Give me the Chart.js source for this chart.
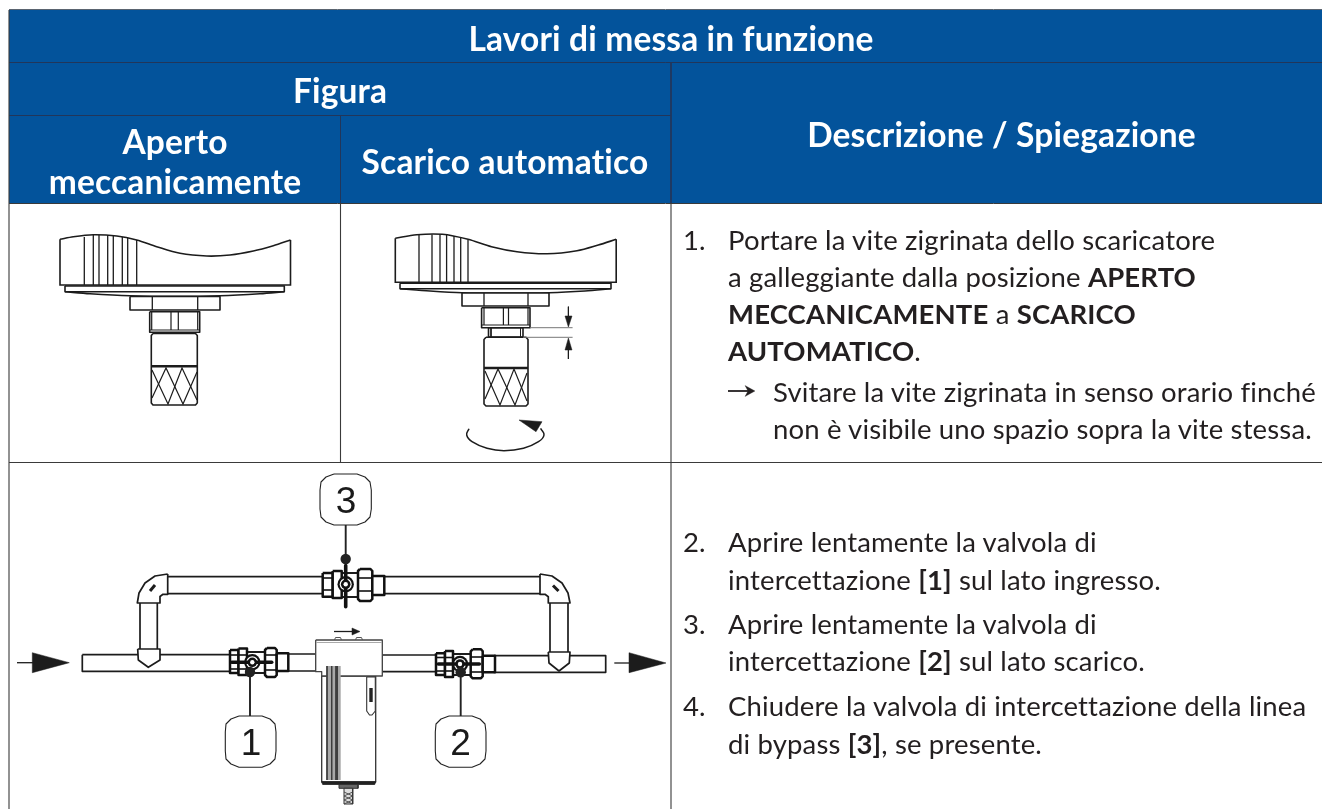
<!DOCTYPE html>
<html lang="it">
<head>
<meta charset="utf-8">
<title>Lavori di messa in funzione</title>
<script src="https://cdn.jsdelivr.net/npm/chart.js@4/dist/chart.umd.min.js"></script>
<style>html,body{margin:0;padding:0;background:#fff}canvas{display:block}</style>
</head>
<body>
<canvas id="c" width="1322" height="809"></canvas>
<script>
// ---------- TEXT ----------
const headerTexts = ["Lavori di messa in funzione","Figura","Aperto","meccanicamente","Scarico automatico","Descrizione / Spiegazione"];
const headerX = [671,340,175,175,505,1001.5];
const headerY = [51,103,154,194,174,147];
const bodyNumbers = ["1.","2.","3.","4."];
const bodyNumberY = [250,552,634,716];
const bodyLines = [
 [["Portare la vite zigrinata dello scaricatore",0]],
 [["a galleggiante dalla posizione ",0],["APERTO",1]],
 [["MECCANICAMENTE",1],[" a ",0],["SCARICO",1]],
 [["AUTOMATICO",1],[".",0]],
 [["Svitare la vite zigrinata in senso orario finché",0]],
 [["non è visibile uno spazio sopra la vite stessa.",0]],
 [["Aprire lentamente la valvola di",0]],
 [["intercettazione ",0],["[1]",1],[" sul lato ingresso.",0]],
 [["Aprire lentamente la valvola di",0]],
 [["intercettazione ",0],["[2]",1],[" sul lato scarico.",0]],
 [["Chiudere la valvola di intercettazione della linea",0]],
 [["di bypass ",0],["[3]",1],[", se presente.",0]]
];
const bodyLineX = [728,728,728,728,773,773,728,728,728,728,728,728];
const bodyLineY = [250,287,324,361,402,439,552,590,634,671,716,754];
const calloutTexts = ["3","1","2"];
const calloutX = [346,251,460.5];
const calloutY = [513,755,755];

// ---------- TABLE ----------
const headerBand = [9,10, 1322,10, 1322,203, 9,203, 9,10];
const gridTop = [9,9.5, 1322,9.5];
const gridHeader1 = [9,62.5, 1322,62.5];
const gridHeader2 = [9,115.5, 671,115.5];
const gridHeader3 = [9,203.5, 1322,203.5];
const gridRow = [9,462.5, 1322,462.5];
const gridLeft = [9,10, 9,809];
const gridCol1Head = [340.5,116, 340.5,203];
const gridCol1 = [340.5,204, 340.5,462];
const gridCol2Head = [671,63, 671,203];
const gridCol2 = [671,204, 671,809];

// ---------- KNOB, LEFT ----------
const knobLTop = [60,239.3, 73.3,236.7, 93.3,234.7, 116.7,236, 136.7,240, 156.7,246.7, 180,253.3, 206.7,256, 230,255, 253.3,251, 273.3,245.7, 290.5,240];
const knobLSides = [60,239.3, 60,285, 290.5,285, 290.5,240];
const knobLRibs = [[84.3,237,84.3,285],[93.3,235,93.3,285],[99,235,99,285],[107.7,235,107.7,285],[113.3,236,113.3,285],[122.3,237,122.3,285],[127.7,238,127.7,285],[136.7,240,136.7,285]];
const plateL = [65,286, 284.3,286, 284.3,291.7, 65,291.7, 65,286];
const plateCurveL = [65,291.7, 90,293.7, 130,295.7, 175,296.3, 220,295.7, 260,293.7, 284.3,291.7];
const nutL = [130,296.5, 220,296.5, 220,310, 130,310, 130,296.5];
const nutLLines = [[152.3,297,152.3,310],[197.7,297,197.7,310]];
const hexL = [149.7,311.7, 199.7,311.7, 199.7,332.3, 149.7,332.3, 149.7,311.7];
const hexLLines = [[151.7,312,151.7,330],[197.7,312,197.7,330],[171,312,171,330],[178.3,312,178.3,330],[149.7,330,199.7,330]];
const gripL = [153,333.5, 195.5,333.5, 197.3,335.5, 197.3,403, 195.5,405, 153,405, 151.3,403, 151.3,335.5, 153,333.5];
const gripLBand = [151.3,366.3, 197.3,366.3];
const hatchL = [
 [152,370, 168,404, 182,368, 197,400],
 [152,398, 166,368, 183,404, 197,372]
];

// ---------- KNOB, RIGHT ----------
const knobRTop = [395.3,238.3, 416.7,234.7, 442.3,234.3, 468,239.3, 491.5,246.7, 517,251.7, 547,253.7, 577,250.7, 598.3,245, 616.2,239.3];
const knobRSides = [395.3,238.3, 395.3,282.3, 616.2,282.3, 616.2,239.3];
const knobRRibs = [[419,235,419,282],[432,234.5,432,282],[440,234.5,440,282],[446.6,235,446.6,282],[454,236,454,282],[460.7,238,460.7,282],[468,240,468,282]];
const plateR = [400,283.3, 611,283.3, 611,288.7, 400,288.7, 400,283.3];
const plateCurveR = [400,288.7, 430,291, 462,292.7, 505,293, 549,292.7, 585,291, 611,288.7];
const nutR = [462,293, 549,293, 549,306, 462,306, 462,293];
const nutRLines = [[484,293,484,306],[528,293,528,306]];
const hexR = [481.6,307.7, 530,307.7, 530,327.7, 481.6,327.7, 481.6,307.7];
const hexRLines = [[484,308,484,325],[528,308,528,325],[503.4,308,503.4,325],[508.5,308,508.5,325],[481.6,325,530,325]];
const neckR = [488.5,328, 523,328, 523,337, 488.5,337, 488.5,328];
const neckRInner = [491,328, 491,337];
const neckRInner2 = [520.5,328, 520.5,337];
const gripR = [486,337.3, 526,337.3, 528,339.5, 528,404, 526,406, 486,406, 484,404, 484,339.5, 486,337.3];
const gripRBand = [484,368, 528,368];
const hatchR = [
 [485,371, 500,405, 514,369, 527,401],
 [485,399, 498,369, 515,405, 527,373]
];
const dimTop = [530,327.7, 572.6,327.7];
const dimBottom = [523,337.3, 572.6,337.3];
const dimArrowTopLine = [568.4,306.7, 568.4,320];
const dimArrowBottomLine = [568.4,345, 568.4,359];
const dimHeadTop = [565,316, 572,316, 568.4,327, 565,316];
const dimHeadBottom = [565,350, 572,350, 568.4,338, 565,350];
const turnArc = [469,428.7, 466.7,435, 472,441.7, 487,448.3, 504,450.7, 523.5,448.3, 538.5,441.7, 544,435, 540.6,428.3];
const turnHead = [519,420, 542,421.7, 536,431.7, 519,420];

// ---------- PIPING ----------
const inArrowLine = [17,662.7, 34,662.7];
const inArrowHead = [32.3,652.7, 69.3,662.7, 32.3,672.7, 32.3,652.7];
const outArrowLine = [614.3,663, 630,663];
const outArrowHead = [629,652.7, 666,663, 629,672.7, 629,652.7];
const pipeInlet = [82.3,654.7, 232,654.7, 232,671.3, 82.3,671.3, 82.3,654.7];
const pipeMidL = [288,654, 316,654, 316,671, 288,671, 288,654];
const pipeMidR = [382,655, 438,655, 438,671.7, 382,671.7, 382,655];
const pipeOutlet = [494,655.7, 605.7,655.7, 605.7,672.3, 494,672.3, 494,655.7];
const bypass = [166,576.7, 324,576.7, 324,593.7, 166,593.7, 166,576.7];
const bypass2 = [382,576.7, 541,576.7, 541,593.7, 382,593.7, 382,576.7];
const riserL = [140,602, 157.3,602, 157.3,651, 140,651, 140,602];
const riserR = [550,602, 568,602, 568,653, 550,653, 550,602];
const elbowL = [167.7,574, 155,576, 145,583, 139,593, 137.3,603, 160,603, 160,596.5, 163,594.3, 167.7,594.3, 167.7,574];
const elbowR = [540,574, 552,576, 562,583, 568,593, 570,603, 548.3,603, 548.3,596.7, 545,594.3, 540,594.3, 540,574];
const elbowMarkL = [150,591, 155,585];
const elbowMarkR = [553,585.5, 558.5,591];
const coneL = [137.7,649, 160,649, 160,660, 148.3,667.3, 138.3,660, 137.7,649];
const coneR = [548.3,652, 570,652, 569.3,663, 559,671, 549,663, 548.3,652];

// ---------- VALVES ----------
const valve1Body = [247,652, 266,652, 266,673, 247,673, 247,652];
const valve1NutA = [230,650, 238.5,650, 238.5,673, 230,673, 230,650];
const valve1NutB = [238.5,648.5, 247,648.5, 247,675, 238.5,675, 238.5,648.5];
const valve1NutC = [267,648, 275,648, 276.7,650, 276.7,675, 275,677, 267,677, 265,675, 265,650, 267,648];
const valve1Collar = [276.7,653.3, 288.3,653.3, 288.3,671, 276.7,671, 276.7,653.3];
const valve1Handle = [231.7,662.3, 271.7,662.3];
const valve1Rings = [[230,655,247,655],[230,669,247,669],[265,655,276.7,655],[265,670,276.7,670]];
const valve2Body = [453,654, 472,654, 472,675, 453,675, 453,654];
const valve2NutA = [436,653.3, 445,653.3, 445,675, 436,675, 436,653.3];
const valve2NutB = [445,651, 453,651, 453,677, 445,677, 445,651];
const valve2NutC = [472.7,649.3, 481,649.3, 482.7,651.3, 482.7,676.3, 481,678.3, 472.7,678.3, 470.7,676.3, 470.7,651.3, 472.7,649.3];
const valve2Collar = [482.7,655.7, 495,655.7, 495,672.3, 482.7,672.3, 482.7,655.7];
const valve2Handle = [438.3,664, 479.3,664];
const valve2Rings = [[436,657.5,453,657.5],[436,671,453,671],[470.7,657,482.7,657],[470.7,672,482.7,672]];
const valve3Body = [341,573, 358,573, 358,597, 341,597, 341,573];
const valve3NutA = [322.7,573, 332.7,573, 332.7,596.7, 322.7,596.7, 322.7,573];
const valve3NutB = [332.7,571, 341.7,571, 341.7,598, 332.7,598, 332.7,571];
const valve3NutC = [360,569, 370.5,569, 372.3,571, 372.3,599, 370.5,601, 360,601, 358,599, 358,571, 360,569];
const valve3Collar = [372.3,576, 384.3,576, 384.3,595, 372.3,595, 372.3,576];
const valve3Handle = [345.7,565.5, 345.7,606.7];
const valve3Rings = [[322.7,578,332.7,578],[322.7,590,332.7,590],[358,578,372.3,578],[358,591,372.3,591]];
const valveRingX = [252.3,460,345.7];
const valveRingY = [662.3,664,584.3];

// ---------- FILTER ----------
const filterHead = [315.7,640, 382.3,640, 382.3,676, 321.7,676, 321.7,671.7, 315.7,671.7, 315.7,640];
const filterHeadEdge = [316,642.5, 382,642.5];
const filterBody = [321.7,676, 375.7,676, 375.7,782, 321.7,782, 321.7,676];
const filterBase = [321.7,781.7, 375.7,781.7, 374.7,784.5, 322.7,784.5, 321.7,781.7];
const filterRibs = [326.7,666, 340.7,666, 340.7,780, 326.7,780, 326.7,666];
const filterRibLines = [[327,666,327,780],[331.7,666,331.7,780],[336,666,336,780],[337.2,666,337.2,780]];
const filterBoltA = [334.5,640, 335.5,637.5, 340.5,637.5, 341.5,640];
const filterBoltB = [355.5,640, 356.5,637.5, 361.5,637.5, 362.5,640];
const flowLine = [334,631.5, 354,631.5];
const flowHead = [352,628, 360,631.5, 352,635, 352,628];
const gauge = [366.7,677, 375.3,677, 375.3,711, 372,715, 369.5,715, 366.7,711, 366.7,677];
const gaugeScale = [371,688, 371,702];
const drainNeck = [339,784.5, 358,784.5, 358,788.3, 339,788.3, 339,784.5];
const drainStem = [344,788.3, 352.7,788.3, 352.7,804, 344,804, 344,788.3];
const drainHatch = [[344,792,352.7,796,344,800,352.7,804],[352.7,792,344,796,352.7,800,344,804]];

// ---------- CALLOUTS ----------
const calloutBox3 = [334,474, 357,474, 365,477, 370,482, 371.3,490, 371.3,509, 370,517, 365,522, 357,525, 334,525, 326,522, 321,517, 320,509, 320,490, 321,482, 326,477, 334,474];
const calloutBox1 = [239,716, 262,716, 270,719, 275,724, 276,732, 276,751, 275,759, 270,764, 262,767.3, 239,767.3, 231,764, 226,759, 225.3,751, 225.3,732, 226,724, 231,719, 239,716];
const calloutBox2 = [449,716, 472,716, 480,719, 485,724, 486,732, 486,751, 485,759, 480,764, 472,767.3, 449,767.3, 441,764, 436,759, 435.3,751, 435.3,732, 436,724, 441,719, 449,716];
const leaderLines = [[345.7,525,345.7,559],[250,672,250,716],[460.7,672.3,460.7,716]];
const leaderDotX = [345.7,250,460.7];
const leaderDotY = [559,672,672.3];

const bulletArrowLine = [728,391, 749,391];
const bulletArrowHead = [745,385.5, 755,391, 745,396.5, 748,391, 745,385.5];

// ---------- COLOURS ----------
const BLUE = "#03539b", INK = "#1c1c1c", GRID_HEAD = "#22365a", GRID = "#3a3a3a", TEXT = "#231f20";

// ---------- DATASETS ----------
const datasets = [];
const pts = a => { const o = []; for (let i = 0; i < a.length; i += 2) o.push({x:a[i], y:a[i+1]}); return o; };
function stroke(a, color, w, extra){ datasets.push(Object.assign({data:pts(a), showLine:true, pointRadius:0, borderColor:color, borderWidth:w, fill:false, tension:0, clip:false}, extra||{})); }
function solid(a, fillColor, lineColor, w){ stroke(a, lineColor||fillColor, w===undefined?1:w, {fill:'shape', backgroundColor:fillColor, borderJoinStyle:'round'}); }
function dots(xs, ys, color, r){ datasets.push({data:xs.map((x,i)=>({x, y:ys[i]})), showLine:false, pointRadius:r, pointHoverRadius:r, pointBackgroundColor:color, pointBorderWidth:0, clip:false}); }
const W = 1.6, white = "#ffffff";

solid(headerBand, BLUE, BLUE, 0);
[gridTop].forEach(a=>stroke(a,"#5a6470",1));
[gridHeader1,gridHeader2,gridCol1Head,gridCol2Head].forEach(a=>stroke(a,GRID_HEAD,1));
stroke(gridHeader3,GRID,1);
[gridRow,gridLeft,gridCol1,gridCol2].forEach(a=>stroke(a,GRID,1.1));

// knobs
stroke(knobLTop,INK,W,{tension:0.3}); stroke(knobLSides,INK,W); knobLRibs.forEach(a=>stroke(a,INK,1.3));
solid(plateL, white, INK, W); stroke(plateCurveL,INK,W,{tension:0.3});
solid(nutL, white, INK, W); nutLLines.forEach(a=>stroke(a,INK,1.3));
solid(hexL, white, INK, W); hexLLines.forEach(a=>stroke(a,INK,1.2));
solid(gripL, white, INK, W); stroke(gripLBand,INK,2.4); hatchL.forEach(a=>stroke(a,INK,1.2));
stroke(knobRTop,INK,W,{tension:0.3}); stroke(knobRSides,INK,W); knobRRibs.forEach(a=>stroke(a,INK,1.3));
solid(plateR, white, INK, W); stroke(plateCurveR,INK,W,{tension:0.3});
solid(nutR, white, INK, W); nutRLines.forEach(a=>stroke(a,INK,1.3));
solid(hexR, white, INK, W); hexRLines.forEach(a=>stroke(a,INK,1.2));
solid(neckR, white, INK, W); stroke(neckRInner,INK,1); stroke(neckRInner2,INK,1);
solid(gripR, white, INK, W); stroke(gripRBand,INK,2.4); hatchR.forEach(a=>stroke(a,INK,1.2));
[dimTop,dimBottom].forEach(a=>stroke(a,"#777",1));
[dimArrowTopLine,dimArrowBottomLine].forEach(a=>stroke(a,INK,1));
solid(dimHeadTop,INK,INK,0.5); solid(dimHeadBottom,INK,INK,0.5);
stroke(turnArc,INK,1.5,{tension:0.45}); solid(turnHead,INK,INK,0.5);

// piping
stroke(inArrowLine,INK,1.3); solid(inArrowHead,INK,INK,0.5);
stroke(outArrowLine,INK,1.3); solid(outArrowHead,INK,INK,0.5);
[pipeInlet,pipeMidL,pipeMidR,pipeOutlet,bypass,bypass2,riserL,riserR].forEach(a=>solid(a,white,INK,1.7));
solid(elbowL,white,INK,1.7); solid(elbowR,white,INK,1.7);
stroke(elbowMarkL,INK,3); stroke(elbowMarkR,INK,3);
solid(coneL,white,INK,1.7); solid(coneR,white,INK,1.7);

// valves
[valve1Body,valve2Body,valve3Body].forEach(a=>solid(a,white,INK,1.8));
[valve1NutA,valve1NutB,valve1NutC,valve1Collar,valve2NutA,valve2NutB,valve2NutC,valve2Collar,valve3NutA,valve3NutB,valve3NutC,valve3Collar].forEach(a=>solid(a,white,"#111",2.5));
[...valve1Rings,...valve2Rings,...valve3Rings].forEach(a=>stroke(a,"#111",1.6));
dots(valveRingX,valveRingY,"#111",8.2);
dots(valveRingX,valveRingY,white,6);
[valve1Handle,valve2Handle,valve3Handle].forEach(a=>stroke(a,"#111",3.6,{borderCapStyle:'round'}));
dots(valveRingX,valveRingY,"#111",4.8);
dots(valveRingX,valveRingY,white,2.2);

// filter
solid(filterBody,white,"#333",1.3);
solid(filterHead,white,"#444",1.3); stroke(filterHeadEdge,"#aaa",1);
solid(filterRibs,"#a8a8a8","#a8a8a8",0);
filterRibLines.forEach(a=>stroke(a,"#3c3c3c",1));
solid(filterBase,"#222","#222",0.8);
stroke(filterBoltA,"#555",1); stroke(filterBoltB,"#555",1);
stroke(flowLine,INK,1.3); solid(flowHead,INK,INK,0.5);
solid(gauge,white,"#333",1.1); stroke(gaugeScale,"#222",3.4);
solid(drainNeck,"#666","#333",1); solid(drainStem,"#ddd","#333",1); drainHatch.forEach(a=>stroke(a,"#444",0.9));

// callouts
[calloutBox3,calloutBox1,calloutBox2].forEach(a=>solid(a,white,"#222",1.1,{}));
leaderLines.forEach(a=>stroke(a,"#222",1.9));
dots(leaderDotX,leaderDotY,"#222",5.2);

stroke(bulletArrowLine,TEXT,1.8); solid(bulletArrowHead,TEXT,TEXT,0.3);

// first dataset must paint first: lower order paints on top
datasets.forEach((d,i)=>{ d.order = datasets.length - i; });

// ---------- TEXT PLUGIN ----------
const BODY_FONT = 'Lato';
const tablePlugin = {
  id:'tableText',
  afterDatasetsDraw(chart){
    const {ctx, scales:{x,y}} = chart;
    ctx.save();
    ctx.textBaseline = 'alphabetic';
    ctx.fontKerning = 'normal';
    ctx.fillStyle = '#ffffff'; ctx.textAlign = 'center';
    ctx.font = `bold 33.5px ${BODY_FONT}`;
    ctx.letterSpacing = '0.15px';
    headerTexts.forEach((t,i)=>ctx.fillText(t, x.getPixelForValue(headerX[i]), y.getPixelForValue(headerY[i])));
    ctx.textAlign = 'left'; ctx.fillStyle = TEXT;
    ctx.font = `27.5px ${BODY_FONT}`;
    bodyNumbers.forEach((t,i)=>ctx.fillText(t, x.getPixelForValue(683), y.getPixelForValue(bodyNumberY[i])));
    bodyLines.forEach((runs,i)=>{
      let px = x.getPixelForValue(bodyLineX[i]);
      runs.forEach(([t,b])=>{
        ctx.font = `${b?'bold ':''}27.5px ${BODY_FONT}`;
        ctx.fillText(t, px, y.getPixelForValue(bodyLineY[i]));
        px += ctx.measureText(t).width;
      });
    });
    ctx.letterSpacing = '0px';
    ctx.textAlign = 'center'; ctx.fillStyle = '#1a1a1a';
    ctx.font = '37px "Liberation Sans"';
    calloutTexts.forEach((t,i)=>ctx.fillText(t, x.getPixelForValue(calloutX[i]), y.getPixelForValue(calloutY[i])));
    ctx.restore();
  }
};

new Chart(document.getElementById('c'), {
  type:'scatter',
  data:{datasets},
  plugins:[tablePlugin],
  options:{
    responsive:false, animation:false, events:[],
    layout:{padding:0, autoPadding:false},
    plugins:{legend:{display:false}, tooltip:{enabled:false}, title:{display:false}, filler:{drawTime:'beforeDatasetDraw', propagate:false}},
    scales:{
      x:{type:'linear', min:0, max:1322, display:false},
      y:{type:'linear', min:0, max:809, reverse:true, display:false}
    }
  }
});
</script>
</body>
</html>
